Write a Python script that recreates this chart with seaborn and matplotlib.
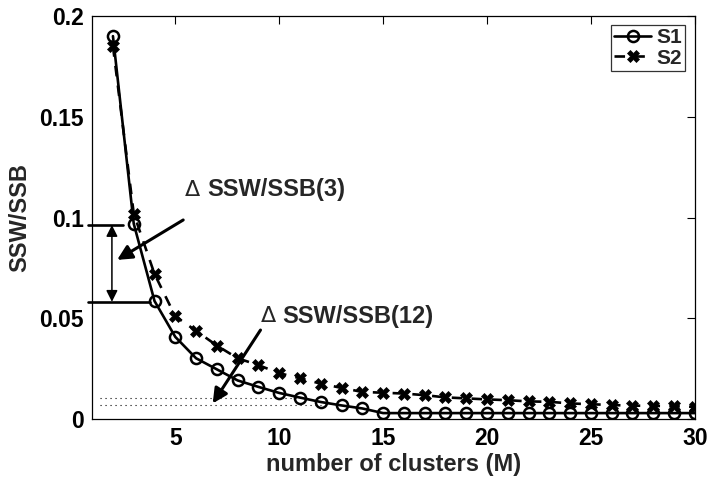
import numpy as np
import pandas as pd
import matplotlib
matplotlib.use("Agg")
import matplotlib.pyplot as plt
import seaborn as sns

# ---- data ----
clusters = list(range(2, 31))
s1 = [0.190, 0.097, 0.0586, 0.0408, 0.0302, 0.0247, 0.0192, 0.0160, 0.0130,
      0.0107, 0.0085, 0.0068, 0.0053, 0.0030, 0.0030, 0.0030, 0.0030, 0.0030,
      0.0030, 0.0030, 0.0030, 0.0030, 0.0030, 0.0030, 0.0030, 0.0030, 0.0030,
      0.0030, 0.0030]
s2 = [0.185, 0.102, 0.072, 0.051, 0.0438, 0.0365, 0.0302, 0.0268, 0.0228,
      0.0203, 0.0176, 0.0155, 0.0135, 0.0131, 0.0127, 0.0119, 0.0108, 0.0103,
      0.0098, 0.0094, 0.0088, 0.0086, 0.0078, 0.0074, 0.0070, 0.0067, 0.0066,
      0.0064, 0.0061]
series_names = ["S1", "S2"]
xticks = [5, 10, 15, 20, 25, 30]
yticks = [0, 0.05, 0.1, 0.15, 0.2]
ytick_labels = ["0", "0.05", "0.1", "0.15", "0.2"]
x_label = "number of clusters (M)"
y_label = "SSW/SSB"
delta_sym = "\u0394"
ann3_text = "SSW/SSB(3)"
ann12_text = "SSW/SSB(12)"
delta_hi = 0.0963   # SSW/SSB(3) level
delta_lo = 0.0582   # SSW/SSB(4) level
dot_hi = 0.0106
dot_lo = 0.0069

sns.set_theme(style="white")
plt.rcParams["font.family"] = ["Liberation Sans", "DejaVu Sans"]
plt.rcParams["font.weight"] = "bold"

fig = plt.figure(figsize=(7.09, 4.84), dpi=100)
ax = fig.add_axes([0.130, 0.134, 0.850, 0.833])

df1 = pd.DataFrame({"M": clusters, "v": s1})
df2 = pd.DataFrame({"M": clusters, "v": s2})
sns.lineplot(data=df1, x="M", y="v", ax=ax, color="black", linewidth=1.9,
             marker="o", markersize=8, markerfacecolor="none",
             markeredgecolor="black", markeredgewidth=1.8, label=series_names[0])
sns.lineplot(data=df2, x="M", y="v", ax=ax, color="black", linewidth=1.9,
             linestyle=(0, (4, 3.5)), marker="X", markersize=8,
             markerfacecolor="black", markeredgecolor="black",
             markeredgewidth=0.5, label=series_names[1])

ax.set_xlim(1, 30)
ax.set_ylim(0, 0.2)
ax.set_xticks(xticks)
ax.set_xticklabels([str(t) for t in xticks])
ax.set_yticks(yticks)
ax.set_yticklabels(ytick_labels)
ax.tick_params(direction="in", length=6, width=0.8, top=True, right=True,
               labelsize=16.5, colors="black", pad=6)
for lab in ax.get_xticklabels() + ax.get_yticklabels():
    lab.set_fontweight("bold")
for sp in ax.spines.values():
    sp.set_color("black")
    sp.set_linewidth(0.9)

ax.set_xlabel(x_label, fontsize=17, fontweight="bold", labelpad=2)
ax.set_ylabel(y_label, fontsize=17, fontweight="bold", labelpad=6)

# horizontal reference lines for delta(3)
ax.plot([0.8, 2.5], [delta_hi, delta_hi], color="black", lw=1.9, clip_on=False)
ax.plot([0.8, 3.8], [delta_lo, delta_lo], color="black", lw=1.9, clip_on=False)
ax.annotate("", xy=(1.95, delta_lo), xytext=(1.95, delta_hi),
            arrowprops=dict(arrowstyle="<|-|>", color="black", lw=1.1,
                            mutation_scale=17, shrinkA=0, shrinkB=0))

# dotted reference lines for delta(12)
ax.plot([1.4, 11], [dot_hi, dot_hi], color="black", lw=0.8,
        linestyle=(0, (1, 3.5)))
ax.plot([1.4, 12], [dot_lo, dot_lo], color="black", lw=0.8,
        linestyle=(0, (1, 3.5)))

# annotations
for x0, y0, txt in [(5.45, 0.1137, ann3_text), (9.1, 0.0511, ann12_text)]:
    ax.text(x0, y0, delta_sym, fontsize=16, fontweight="normal",
            family="DejaVu Sans", va="center", ha="left")
    ax.annotate(txt, xy=(x0, y0), xytext=(16, 0), textcoords="offset points",
                fontsize=17, fontweight="bold", va="center", ha="left")

ax.annotate("", xy=(2.2, 0.079), xytext=(5.38, 0.0988),
            arrowprops=dict(arrowstyle="-|>", color="black", lw=2.2,
                            mutation_scale=22, shrinkA=0, shrinkB=0))
ax.annotate("", xy=(6.8, 0.0078), xytext=(9.1, 0.0442),
            arrowprops=dict(arrowstyle="-|>", color="black", lw=2.2,
                            mutation_scale=22, shrinkA=0, shrinkB=0))

leg = ax.legend(loc="upper right", frameon=True, fancybox=False,
                edgecolor="black", handlelength=1.8, handletextpad=0.25,
                borderaxespad=0.45, borderpad=0.15, labelspacing=0.05,
                prop={"weight": "bold", "size": 15})
leg.get_frame().set_linewidth(0.9)

fig.savefig("out.png", dpi=100)
